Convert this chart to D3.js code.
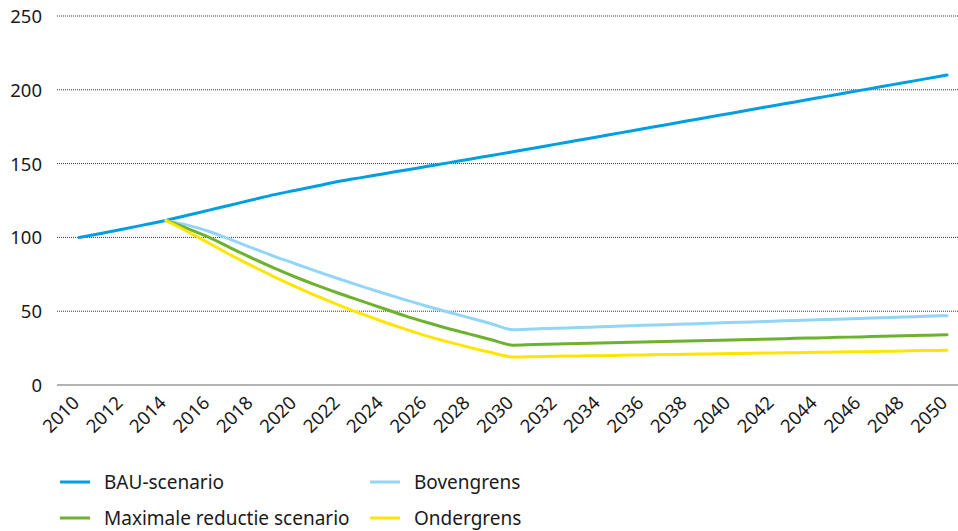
<!DOCTYPE html>
<html>
<head>
<meta charset="utf-8">
<script src="https://cdn.jsdelivr.net/npm/d3@7"></script>
<style>
  html, body { margin: 0; padding: 0; background: #fff; }
  svg { display: block; font-family: "Noto Sans", "Open Sans", sans-serif; }
</style>
</head>
<body>
<svg id="chart" width="958" height="531"></svg>
<script>
// Jaren en reeksen (index, 2010 = 100)
const years = d3.range(2010, 2051);
const xTickLabels = ["2010","2012","2014","2016","2018","2020","2022","2024","2026","2028","2030",
  "2032","2034","2036","2038","2040","2042","2044","2046","2048","2050"];
const yTicks = [0, 50, 100, 150, 200, 250];

const bau = [100, 102.7, 105.5, 108.5, 111.5, 115, 118.5, 122, 125.5, 129, 132,
  135, 138, 140.5, 143, 145.5, 148, 150.5, 153, 155.5, 158,
  160.6, 163.2, 165.8, 168.4, 171, 173.6, 176.2, 178.8, 181.4, 184,
  186.6, 189.2, 191.8, 194.4, 197, 199.6, 202.2, 204.8, 207.4, 210];
const bovengrens = [null, null, null, null, 111.5, 108.3, 104, 98.5, 92.8, 87.2, 82,
  76.8, 71.8, 67, 62.3, 57.8, 53.5, 49.5, 45.5, 41.5, 37.5,
  38, 38.5, 38.9, 39.4, 39.9, 40.4, 40.8, 41.3, 41.8, 42.3,
  42.7, 43.2, 43.7, 44.2, 44.6, 45.1, 45.6, 46.1, 46.5, 47];
const maxReductie = [null, null, null, null, 111.5, 106, 100, 92.8, 85.8, 79.2, 73,
  67.3, 62, 57, 52, 47, 42.5, 38.3, 34.5, 30.7, 27,
  27.4, 27.7, 28.1, 28.4, 28.8, 29.1, 29.5, 29.8, 30.2, 30.5,
  30.9, 31.2, 31.6, 31.9, 32.3, 32.6, 33, 33.3, 33.7, 34];
const ondergrens = [null, null, null, null, 111.5, 104, 96, 88, 80.5, 73.3, 66.5,
  60, 54, 48.3, 43, 38, 33.3, 29.2, 25.5, 22, 19,
  19.2, 19.5, 19.7, 19.9, 20.1, 20.4, 20.6, 20.8, 21, 21.3,
  21.5, 21.7, 21.9, 22.2, 22.4, 22.6, 22.8, 23.1, 23.3, 23.5];

const seriesNames = ["BAU-scenario", "Bovengrens", "Maximale reductie scenario", "Ondergrens"];
const seriesValues = [bau, bovengrens, maxReductie, ondergrens];
const seriesColors = ["#009fe3", "#93d5f6", "#6cb22f", "#ffe500"];

const svg = d3.select("#chart");

const x = d3.scaleLinear().domain([2010, 2050]).range([79, 947]);
const y = d3.scaleLinear().domain([0, 250]).range([385, 16]);

// Horizontale rasterlijnen
const grid = svg.append("g");
grid.selectAll("line")
  .data(yTicks)
  .join("line")
  .attr("x1", 57).attr("x2", 958)
  .attr("y1", d => y(d)).attr("y2", d => y(d))
  .attr("stroke", d => d === 0 ? "#9a9a9a" : "#333")
  .attr("stroke-width", d => d === 0 ? 1.5 : 1)
  .attr("stroke-dasharray", d => d === 0 ? null : "1,1");

// Y-as labels
const yAxis = d3.axisLeft(y).tickValues(yTicks).tickSize(0).tickPadding(0);
const gy = svg.append("g").attr("transform", "translate(42,0)").call(yAxis);
gy.select(".domain").remove();
gy.selectAll("text")
  .attr("font-family", "Noto Sans, sans-serif")
  .attr("font-size", 18.5)
  .attr("fill", "#1a1a1a")
  .attr("dy", "0.35em");

// X-as labels, schuin
const xAxis = d3.axisBottom(x)
  .tickValues(xTickLabels.map(Number))
  .tickFormat(d => String(d))
  .tickSize(0);
const gx = svg.append("g").attr("transform", "translate(0,385)").call(xAxis);
gx.select(".domain").remove();
gx.selectAll("text")
  .attr("font-family", "Noto Sans, sans-serif")
  .attr("font-size", 18.5)
  .attr("fill", "#1a1a1a")
  .attr("text-anchor", "end")
  .attr("x", 0).attr("y", 0).attr("dy", 0)
  .attr("transform", "translate(1,19) rotate(-45)");

// Lijnen
const line = d3.line()
  .defined(d => d.v !== null)
  .x(d => x(d.year))
  .y(d => y(d.v))
  .curve(d3.curveMonotoneX);

svg.append("g").selectAll("path")
  .data(seriesValues.map((vals, i) => ({
    color: seriesColors[i],
    points: years.map((yr, j) => ({ year: yr, v: vals[j] }))
  })))
  .join("path")
  .attr("d", d => line(d.points))
  .attr("fill", "none")
  .attr("stroke", d => d.color)
  .attr("stroke-width", 3)
  .attr("stroke-linejoin", "round")
  .attr("stroke-linecap", "round");

// Legenda
const legendPos = [
  { x: 60, y: 482 }, { x: 370, y: 482 },
  { x: 60, y: 518 }, { x: 370, y: 518 }
];
const legend = svg.append("g").selectAll("g")
  .data(seriesNames.map((n, i) => ({ name: n, color: seriesColors[i], pos: legendPos[i] })))
  .join("g")
  .attr("transform", d => `translate(${d.pos.x},${d.pos.y})`);
legend.append("line")
  .attr("x1", 0).attr("x2", 30).attr("y1", 0).attr("y2", 0)
  .attr("stroke", d => d.color).attr("stroke-width", 3);
legend.append("text")
  .attr("x", 44).attr("y", 0).attr("dy", "0.35em")
  .attr("font-size", 19)
  .attr("fill", "#1a1a1a")
  .text(d => d.name);
</script>
</body>
</html>
